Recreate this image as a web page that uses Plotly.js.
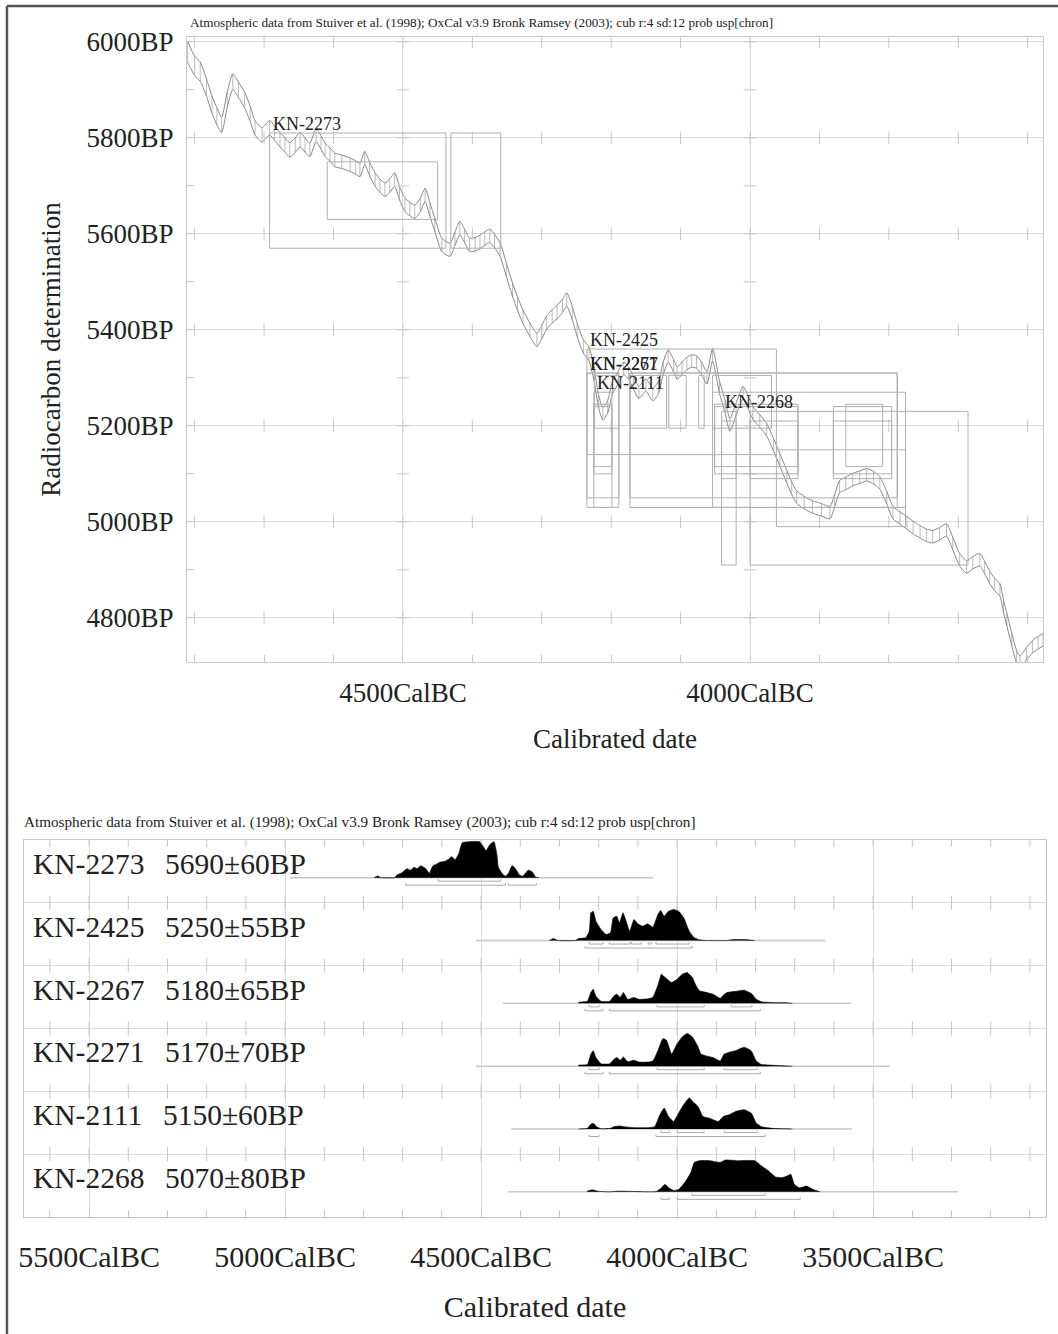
<!DOCTYPE html>
<html><head><meta charset="utf-8">
<script src="https://cdn.plot.ly/plotly-3.0.1.min.js"></script>
<style>body{margin:0;background:#fff}#chart{width:1058px;height:1334px}</style>
</head><body><div id="chart"></div>
<script>
const header = "Atmospheric data from Stuiver et al. (1998); OxCal v3.9 Bronk Ramsey (2003); cub r:4 sd:12 prob usp[chron]";

// Calibration curve (cal BC, radiocarbon BP, 1-sigma error)
const calBC = [4810,4800,4792,4783,4775,4768,4761,4753,4745,4737,
4728,4720,4713,4703,4692,4685,4677,4670,4663,4655,
4648,4641,4634,4625,4618,4612,4605,4598,4588,4576,
4568,4562,4555,4548,4540,4533,4526,4519,4512,4505,
4497,4490,4483,4475,4468,4461,4454,4444,4432,4425,
4418,4411,4404,4396,4389,4382,4375,4368,4360,4351,
4342,4335,4327,4317,4307,4300,4293,4285,4278,4270,
4264,4256,4249,4240,4232,4225,4218,4212,4205,4198,
4190,4182,4175,4168,4160,4150,4140,4132,4125,4118,
4110,4105,4098,4091,4084,4077,4070,4062,4054,4044,
4036,4029,4020,4010,4003,3996,3986,3976,3966,3957,
3947,3940,3933,3922,3910,3897,3885,3878,3871,3862,
3852,3842,3832,3822,3813,3803,3794,3784,3774,3765,
3755,3746,3737,3727,3717,3708,3698,3688,3679,3669,
3662,3655,3648,3640,3635,3630,3623,3616,3611,3602,
3593,3585,3578];
const calBP = [5979,5950,5938,5905,5869,5845,5827,5880,5917,5900,
5879,5850,5821,5806,5821,5810,5796,5785,5775,5785,
5796,5785,5775,5806,5790,5775,5765,5754,5750,5744,
5738,5733,5758,5735,5713,5700,5692,5700,5713,5685,
5660,5652,5646,5660,5681,5650,5619,5577,5567,5590,
5612,5595,5577,5578,5583,5590,5596,5585,5567,5525,
5483,5455,5427,5400,5379,5395,5415,5428,5437,5450,
5463,5435,5400,5365,5350,5310,5250,5225,5240,5280,
5300,5320,5310,5290,5270,5285,5265,5280,5320,5345,
5325,5310,5320,5330,5335,5333,5320,5300,5348,5281,
5240,5202,5235,5269,5250,5227,5210,5192,5160,5129,
5094,5070,5052,5040,5031,5025,5019,5045,5073,5080,
5088,5093,5098,5092,5081,5050,5019,5008,4998,4988,
4979,4972,4969,4975,4983,4955,4921,4906,4915,4921,
4905,4885,4870,4858,4825,4796,4755,4719,4708,4725,
4740,4748,4754];
const calErr = [22,20,20,18,18,18,16,16,16,16,
16,16,15,15,15,15,15,15,15,15,
15,15,14,14,14,14,14,14,14,14,
14,14,14,14,14,14,14,14,14,14,
14,14,14,14,14,14,14,14,14,14,
14,14,14,14,14,14,14,14,14,14,
14,14,14,14,14,14,14,14,14,14,
14,14,14,14,14,14,13,13,13,13,
13,13,13,13,13,13,13,13,13,13,
13,13,13,13,13,13,13,13,13,13,
13,13,13,13,13,13,13,13,13,13,
13,13,13,13,13,13,13,13,13,13,
13,13,13,13,13,13,13,13,13,13,
13,13,13,13,13,13,13,13,13,13,
13,13,13,13,13,13,13,13,13,13,
13,13,13];

// Samples
const labIds = ["KN-2273","KN-2425","KN-2267","KN-2271","KN-2111","KN-2268"];
const c14Age = [5690,5250,5180,5170,5150,5070];
const c14Err = [60,55,65,70,60,80];
// calibrated ranges (cal BC, older first)
const range1 = [
  [[4609,4450]],
  [[4224,4189],[4173,4120],[4117,4092],[4074,4066],[4054,3969]],
  [[4225,4199],[4051,3931],[3862,3809]],
  [[4225,4199],[4051,3931],[3880,3796]],
  [[4041,4020],[4000,3931],[3880,3796]],
  [[3962,3776]]
];
const range2 = [
  [[4692,4438],[4431,4359]],
  [[4235,3962]],
  [[4235,4189],[4173,3788]],
  [[4235,4189],[4173,3788]],
  [[4225,4199],[4054,3776]],
  [[4041,4020],[4000,3686]]
];
// extent of each calculated distribution (cal BC)
const spanStart = [4987,4513,4444,4513,4423,4431];
const spanEnd   = [4061,3622,3556,3457,3554,3283];

// probability distributions (cal BC, relative probability)
const distKN2273BC = [4773,4764,4755,4720,4715,4702,4689,4680,4671,4663,4654,4641,4632,4623,4614,4605,4592,4583,4575,4566,4557,4548,4531,4504,4495,4487,4478,4467,4460,4456,4447,4438,4430,4421,4412,4403,4394,4387,4380,4370,4361,4352];
const distKN2273P  = [0,1.7,0,0,2.7,5,9,7.5,10.5,9,12,9,4.5,12,13.5,15.5,16.5,18.5,21,18,24,35,36,36,31.5,27,33,36,24,10.5,4.5,1.5,4.5,12,9,3,1.5,4.5,7.5,6,0.7,0];
const distKN2425BC = [4326,4315,4304,4260,4251,4233,4224,4220,4214,4207,4194,4181,4170,4163,4154,4147,4138,4130,4121,4110,4100,4088,4075,4062,4049,4042,4033,4022,4009,3996,3983,3969,3956,3943,3926,3873,3855,3829,3802];
const distKN2425P  = [0,2,0,0,2,2.7,9.3,27.7,29.3,19.3,11,6,7.7,22.7,24.3,17.7,27.7,19.3,9.3,21,16.7,14.3,16.7,13.3,26,30,24.3,29.3,31,29.3,22.7,9.3,2.7,0.7,0,0,1,1,0];
const distKN2267BC = [4251,4229,4220,4214,4207,4194,4172,4161,4154,4145,4137,4126,4110,4097,4075,4062,4049,4040,4031,4014,4000,3987,3974,3961,3952,3943,3926,3908,3890,3880,3873,3851,3829,3811,3798,3785,3750,3723,3706];
const distKN2267P  = [1,2,11,14.2,7,2,2,7.5,9.2,6,10.8,4,5.8,4,4.5,6,18,29.2,26,20.8,24,29,30.8,25.8,18,12.5,11,9,5,9,10.8,12,13.2,10,4,1.5,0.7,0.7,0];
const distKN2271BC = [4251,4229,4220,4214,4207,4194,4172,4161,4154,4145,4137,4126,4110,4097,4075,4062,4049,4036,4027,4014,4000,3987,3974,3961,3948,3939,3926,3908,3890,3880,3868,3851,3829,3811,3798,3785,3758,3706];
const distKN2271P  = [1,1.7,12,15.5,8.6,2.4,2.4,6.9,8.6,5.9,9.3,4.5,5.9,4.1,4.1,5.2,15.5,27.6,25.9,12.1,22.4,29.3,32.8,29.3,20.7,12.1,10.3,8.6,5.2,12.1,13.8,15.5,19,15.5,5.2,1.7,1,0];
const distKN2111BC = [4251,4229,4220,4214,4205,4194,4170,4161,4145,4137,4110,4075,4057,4044,4033,4022,4009,3996,3983,3969,3961,3947,3934,3917,3895,3882,3868,3851,3829,3811,3798,3785,3758,3706];
const distKN2111P  = [0,0.7,4.7,5.8,2.4,0.3,0.7,2.4,3,2.4,1.4,1.4,2.4,14.2,21,12.5,7.5,16,24.4,31.2,27.8,22.7,12.5,10.8,7.5,12.5,14.2,17.6,19.3,15.9,5.8,2.4,0.7,0];
const distKN2268BC = [4229,4216,4203,4172,4154,4137,4102,4053,4040,4031,4021,4009,3996,3978,3965,3956,3943,3917,3890,3877,3846,3802,3785,3767,3749,3732,3719,3710,3701,3688,3670,3653,3635];
const distKN2268P  = [0.7,2,0.7,0,0.7,0.7,0.3,0.3,4,7.5,4,1.4,2.4,10.8,19.3,29.5,31.2,31.2,29.5,31.9,31.2,31.2,26.1,21,14.9,14.2,15.9,17.6,7.5,4,5.8,2.4,0];

const distBC = [distKN2273BC,distKN2425BC,distKN2267BC,distKN2271BC,distKN2111BC,distKN2268BC];
const distP  = [distKN2273P,distKN2425P,distKN2267P,distKN2271P,distKN2111P,distKN2268P];

// tick labels
const topXTicks = [4500,4000];
const topYTicks = [4800,5000,5200,5400,5600,5800,6000];
const botXTicks = [5500,5000,4500,4000,3500];

const FONT = "Liberation Serif, Times New Roman, serif";
const W = 1058, H = 1334;
const px = v => v / W, py = v => 1 - v / H;
const TICKC = '#c6c6c6';

const traces = [];
// ---- top chart ----
const up = calBP.map((v,i)=>v+calErr[i]);
const lo = calBP.map((v,i)=>v-calErr[i]);
const hx = [], hy = [];
calBC.forEach((x,i)=>{ hx.push(x,x,null); hy.push(up[i],lo[i],null); });
traces.push({x:hx,y:hy,xaxis:'x',yaxis:'y',mode:'lines',line:{color:'#aaa',width:0.8},hoverinfo:'skip',showlegend:false});
traces.push({x:calBC,y:up,xaxis:'x',yaxis:'y',mode:'lines',line:{color:'#888',width:1,shape:'spline',smoothing:0.6},showlegend:false});
traces.push({x:calBC,y:lo,xaxis:'x',yaxis:'y',mode:'lines',line:{color:'#888',width:1,shape:'spline',smoothing:0.6},showlegend:false});

// grid crosses on top chart
const topMinorX = [4800,4700,4600,4500,4400,4300,4200,4100,4000,3900,3800,3700,3600];
const cx = [], cy = [];
topMinorX.forEach(x=>topYTicks.forEach(y=>{cx.push(x);cy.push(y);}));
traces.push({x:cx,y:cy,xaxis:'x',yaxis:'y',mode:'markers',marker:{symbol:'line-ns-open',size:9,color:TICKC,line:{color:TICKC,width:1}},hoverinfo:'skip',showlegend:false});
const topMinorY = [4800,4900,5000,5100,5200,5300,5400,5500,5600,5700,5800,5900,6000];
const ex = [], ey = [];
topXTicks.forEach(x=>topMinorY.forEach(y=>{ex.push(x);ey.push(y);}));
traces.push({x:ex,y:ey,xaxis:'x',yaxis:'y',mode:'markers',marker:{symbol:'line-ew-open',size:9,color:TICKC,line:{color:TICKC,width:1}},hoverinfo:'skip',showlegend:false});

// ---- bottom chart ----
const ROWPX = 62.8;
const botMinorX = [5600,5500,5400,5300,5200,5100,5000,4900,4800,4700,4600,4500,4400,4300,4200,4100,4000,3900,3800,3700,3600,3500,3400,3300,3200,3100];
const bx = [], by = [];
botMinorX.forEach(x=>[1,2,3,4,5,6].forEach(y=>{bx.push(x);by.push(y);}));
traces.push({x:bx,y:by,xaxis:'x2',yaxis:'y2',mode:'markers',marker:{symbol:'line-ns-open',size:10,color:TICKC,line:{color:TICKC,width:1}},hoverinfo:'skip',showlegend:false});

const shapes = [];
const annotations = [];
labIds.forEach((id,i)=>{
  const base = (5-i) + 0.40;
  traces.push({x:[spanStart[i],spanEnd[i]],y:[base,base],xaxis:'x2',yaxis:'y2',mode:'lines',line:{color:'#c8c8c8',width:1.5},hoverinfo:'skip',showlegend:false});
  const xs = [distBC[i][0], ...distBC[i], distBC[i][distBC[i].length-1]];
  const ys = [base, ...distP[i].map(p=>base + p/ROWPX), base];
  traces.push({x:xs,y:ys,xaxis:'x2',yaxis:'y2',mode:'lines',fill:'toself',fillcolor:'#000',line:{color:'#000',width:0.6,shape:'spline',smoothing:0.4},name:id,showlegend:false});
  [[range1[i],3.5],[range2[i],7.5]].forEach(([rs,off])=>{
    const yb = base - off/ROWPX, yt = yb + 2/ROWPX;
    const rx=[], ry=[];
    rs.forEach(r=>{rx.push(r[0],r[0],r[1],r[1],null); ry.push(yt,yb,yb,yt,null);});
    traces.push({x:rx,y:ry,xaxis:'x2',yaxis:'y2',mode:'lines',line:{color:'#aaa',width:1},hoverinfo:'skip',showlegend:false});
  });
  annotations.push({xref:'paper',yref:'y2',x:px(31),y:(5-i)+0.62,xanchor:'left',yanchor:'middle',showarrow:false,
    text:id+'\u00A0\u00A0\u2009'+c14Age[i]+'±'+c14Err[i]+'BP',font:{family:FONT,size:29.5,color:'#222'}});
  range2[i].forEach(r=>shapes.push({type:'rect',xref:'x',yref:'y',x0:r[0],x1:r[1],y0:c14Age[i]-2*c14Err[i],y1:c14Age[i]+2*c14Err[i],line:{color:'#b0b0b0',width:1},fillcolor:'rgba(0,0,0,0)',layer:'above'}));
  range1[i].forEach(r=>shapes.push({type:'rect',xref:'x',yref:'y',x0:r[0],x1:r[1],y0:c14Age[i]-c14Err[i],y1:c14Age[i]+c14Err[i],line:{color:'#b0b0b0',width:1},fillcolor:'rgba(0,0,0,0)',layer:'above'}));
  annotations.push({xref:'x',yref:'y',x:range2[i][0][0],y:c14Age[i]+2*c14Err[i],xanchor:'left',yanchor:'bottom',showarrow:false,
    text:id,font:{family:FONT,size:18,color:'#222'},borderpad:0,xshift:2,yshift:-2});
});

annotations.push({xref:'paper',yref:'paper',x:px(188),y:py(22),xanchor:'left',yanchor:'middle',showarrow:false,text:header,font:{family:FONT,size:13.2,color:'#222'}});
annotations.push({xref:'paper',yref:'paper',x:px(22),y:py(822),xanchor:'left',yanchor:'middle',showarrow:false,text:header,font:{family:FONT,size:15.2,color:'#222'}});

// frame
shapes.push({type:'line',xref:'paper',yref:'paper',x0:px(7),x1:1,y0:py(6),y1:py(6),line:{color:'#555',width:2.5}});
shapes.push({type:'line',xref:'paper',yref:'paper',x0:px(7),x1:px(7),y0:0,y1:py(6),line:{color:'#555',width:2.5}});

const axCommon = {showline:true,mirror:true,linecolor:'#c8c8c8',linewidth:1,gridcolor:'#dcdcdc',gridwidth:1,zeroline:false,
  tickfont:{family:FONT,size:27,color:'#222'},ticks:'inside',ticklen:7,tickcolor:TICKC};

const layout = {
  width:W,height:H,margin:{l:0,r:0,t:0,b:0},paper_bgcolor:'#fff',plot_bgcolor:'#fff',showlegend:false,
  font:{family:FONT,color:'#222'},
  xaxis:Object.assign({},axCommon,{domain:[px(187),px(1043)],anchor:'y',range:[4811,3578],
    tickmode:'array',tickvals:topXTicks,ticktext:topXTicks.map(v=>v+'CalBC'),ticklabelstandoff:7,
    minor:{tick0:0,dtick:100,ticks:'inside',ticklen:7,tickcolor:TICKC,showgrid:false},
    title:{text:'Calibrated date',font:{family:FONT,size:27,color:'#222'},standoff:21}}),
  yaxis:Object.assign({},axCommon,{domain:[py(662),py(37)],anchor:'x',range:[4708,6010],
    tickmode:'array',tickvals:topYTicks,ticktext:topYTicks.map(v=>v+'BP'),ticklabelstandoff:7,
    minor:{tick0:0,dtick:100,ticks:'inside',ticklen:7,tickcolor:TICKC,showgrid:false},
    title:{text:'Radiocarbon determination',font:{family:FONT,size:27,color:'#222'},standoff:18}}),
  xaxis2:Object.assign({},axCommon,{domain:[px(24),px(1046)],anchor:'y2',range:[5666,3059],
    tickmode:'array',tickvals:botXTicks,ticktext:botXTicks.map(v=>v+'CalBC'),ticklabelstandoff:13,
    tickfont:{family:FONT,size:30,color:'#222'},
    minor:{tick0:0,dtick:100,ticks:'inside',ticklen:7,tickcolor:TICKC,showgrid:false},
    title:{text:'Calibrated date',font:{family:FONT,size:30,color:'#222'},standoff:23}}),
  yaxis2:Object.assign({},axCommon,{domain:[py(1217),py(840)],anchor:'x2',range:[0,6],
    tickmode:'array',tickvals:[0,1,2,3,4,5,6],showticklabels:false,ticks:''}),
  shapes:shapes,annotations:annotations
};
Plotly.newPlot('chart',traces,layout,{staticPlot:true});
</script></body></html>
